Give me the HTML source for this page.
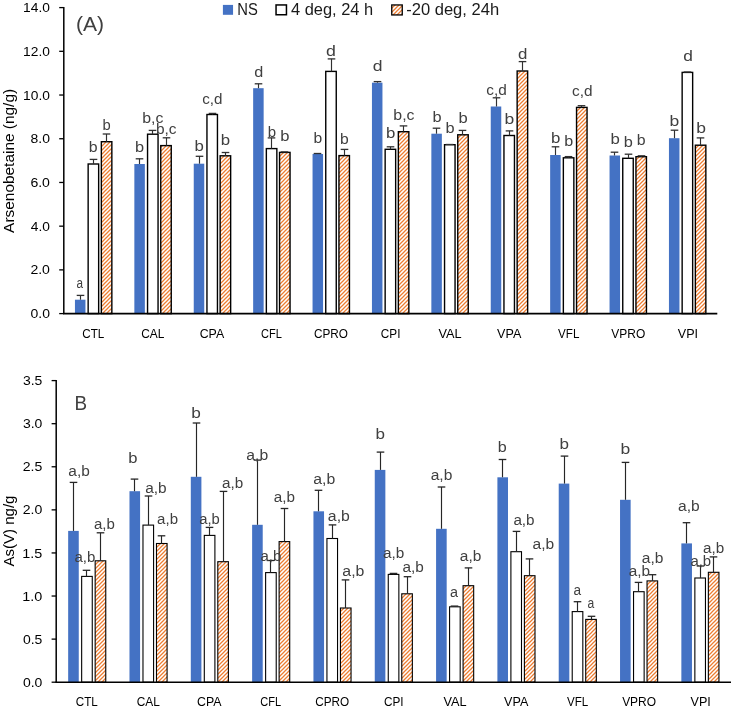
<!DOCTYPE html>
<html><head><meta charset="utf-8"><title>Arsenic species chart</title>
<style>
html,body{margin:0;padding:0;background:#fff;}
body{width:731px;height:711px;position:relative;overflow:hidden;font-family:"Liberation Sans", sans-serif;}
</style></head><body>
<svg width="731" height="711" viewBox="0 0 731 711" style="position:absolute;left:0;top:0;will-change:transform">
<defs><pattern id="hatch" patternUnits="userSpaceOnUse" width="4" height="4"><rect width="4" height="4" fill="#fff"/><path d="M-1,1 L1,-1 M0,4 L4,0 M3,5 L5,3" stroke="#ED7D31" stroke-width="1.25"/></pattern></defs>
<g font-family='"Liberation Sans", sans-serif'>
<rect x="74.95" y="299.70" width="10.50" height="13.90" fill="#4472C4"/>
<line x1="80.50" y1="299.70" x2="80.50" y2="295.40" stroke="#303030" stroke-width="1.15"/>
<line x1="76.70" y1="295.40" x2="84.30" y2="295.40" stroke="#303030" stroke-width="1.3"/>
<rect x="88.15" y="164.00" width="10.50" height="149.60" fill="#fff" stroke="#000" stroke-width="1.4"/>
<line x1="93.50" y1="164.00" x2="93.50" y2="159.40" stroke="#303030" stroke-width="1.15"/>
<line x1="89.70" y1="159.40" x2="97.30" y2="159.40" stroke="#303030" stroke-width="1.3"/>
<rect x="101.35" y="141.70" width="10.50" height="171.90" fill="url(#hatch)" stroke="#000" stroke-width="1.4"/>
<line x1="106.50" y1="141.70" x2="106.50" y2="134.00" stroke="#303030" stroke-width="1.15"/>
<line x1="102.70" y1="134.00" x2="110.30" y2="134.00" stroke="#303030" stroke-width="1.3"/>
<rect x="134.35" y="164.00" width="10.50" height="149.60" fill="#4472C4"/>
<line x1="139.50" y1="164.00" x2="139.50" y2="158.80" stroke="#303030" stroke-width="1.15"/>
<line x1="135.70" y1="158.80" x2="143.30" y2="158.80" stroke="#303030" stroke-width="1.3"/>
<rect x="147.55" y="134.20" width="10.50" height="179.40" fill="#fff" stroke="#000" stroke-width="1.4"/>
<line x1="152.50" y1="134.20" x2="152.50" y2="130.40" stroke="#303030" stroke-width="1.15"/>
<line x1="148.70" y1="130.40" x2="156.30" y2="130.40" stroke="#303030" stroke-width="1.3"/>
<rect x="160.75" y="145.60" width="10.50" height="168.00" fill="url(#hatch)" stroke="#000" stroke-width="1.4"/>
<line x1="166.50" y1="145.60" x2="166.50" y2="137.80" stroke="#303030" stroke-width="1.15"/>
<line x1="162.70" y1="137.80" x2="170.30" y2="137.80" stroke="#303030" stroke-width="1.3"/>
<rect x="193.75" y="163.70" width="10.50" height="149.90" fill="#4472C4"/>
<line x1="199.50" y1="163.70" x2="199.50" y2="156.30" stroke="#303030" stroke-width="1.15"/>
<line x1="195.70" y1="156.30" x2="203.30" y2="156.30" stroke="#303030" stroke-width="1.3"/>
<rect x="206.95" y="114.50" width="10.50" height="199.10" fill="#fff" stroke="#000" stroke-width="1.4"/>
<line x1="212.50" y1="114.50" x2="212.50" y2="113.40" stroke="#303030" stroke-width="1.15"/>
<line x1="208.70" y1="113.40" x2="216.30" y2="113.40" stroke="#303030" stroke-width="1.3"/>
<rect x="220.15" y="155.80" width="10.50" height="157.80" fill="url(#hatch)" stroke="#000" stroke-width="1.4"/>
<line x1="225.50" y1="155.80" x2="225.50" y2="152.50" stroke="#303030" stroke-width="1.15"/>
<line x1="221.70" y1="152.50" x2="229.30" y2="152.50" stroke="#303030" stroke-width="1.3"/>
<rect x="253.15" y="88.20" width="10.50" height="225.40" fill="#4472C4"/>
<line x1="258.50" y1="88.20" x2="258.50" y2="83.80" stroke="#303030" stroke-width="1.15"/>
<line x1="254.70" y1="83.80" x2="262.30" y2="83.80" stroke="#303030" stroke-width="1.3"/>
<rect x="266.35" y="148.60" width="10.50" height="165.00" fill="#fff" stroke="#000" stroke-width="1.4"/>
<line x1="271.50" y1="148.60" x2="271.50" y2="137.90" stroke="#303030" stroke-width="1.15"/>
<line x1="267.70" y1="137.90" x2="275.30" y2="137.90" stroke="#303030" stroke-width="1.3"/>
<rect x="279.55" y="152.40" width="10.50" height="161.20" fill="url(#hatch)" stroke="#000" stroke-width="1.4"/>
<line x1="280.70" y1="151.90" x2="288.30" y2="151.90" stroke="#303030" stroke-width="1.3"/>
<rect x="312.55" y="154.00" width="10.50" height="159.60" fill="#4472C4"/>
<line x1="313.70" y1="153.50" x2="321.30" y2="153.50" stroke="#303030" stroke-width="1.3"/>
<rect x="325.75" y="71.40" width="10.50" height="242.20" fill="#fff" stroke="#000" stroke-width="1.4"/>
<line x1="331.50" y1="71.40" x2="331.50" y2="58.90" stroke="#303030" stroke-width="1.15"/>
<line x1="327.70" y1="58.90" x2="335.30" y2="58.90" stroke="#303030" stroke-width="1.3"/>
<rect x="338.95" y="155.60" width="10.50" height="158.00" fill="url(#hatch)" stroke="#000" stroke-width="1.4"/>
<line x1="344.50" y1="155.60" x2="344.50" y2="149.40" stroke="#303030" stroke-width="1.15"/>
<line x1="340.70" y1="149.40" x2="348.30" y2="149.40" stroke="#303030" stroke-width="1.3"/>
<rect x="371.95" y="82.70" width="10.50" height="230.90" fill="#4472C4"/>
<line x1="377.50" y1="82.70" x2="377.50" y2="81.60" stroke="#303030" stroke-width="1.15"/>
<line x1="373.70" y1="81.60" x2="381.30" y2="81.60" stroke="#303030" stroke-width="1.3"/>
<rect x="385.15" y="149.30" width="10.50" height="164.30" fill="#fff" stroke="#000" stroke-width="1.4"/>
<line x1="390.50" y1="149.30" x2="390.50" y2="146.80" stroke="#303030" stroke-width="1.15"/>
<line x1="386.70" y1="146.80" x2="394.30" y2="146.80" stroke="#303030" stroke-width="1.3"/>
<rect x="398.35" y="131.70" width="10.50" height="181.90" fill="url(#hatch)" stroke="#000" stroke-width="1.4"/>
<line x1="403.50" y1="131.70" x2="403.50" y2="125.90" stroke="#303030" stroke-width="1.15"/>
<line x1="399.70" y1="125.90" x2="407.30" y2="125.90" stroke="#303030" stroke-width="1.3"/>
<rect x="431.35" y="133.70" width="10.50" height="179.90" fill="#4472C4"/>
<line x1="436.50" y1="133.70" x2="436.50" y2="128.20" stroke="#303030" stroke-width="1.15"/>
<line x1="432.70" y1="128.20" x2="440.30" y2="128.20" stroke="#303030" stroke-width="1.3"/>
<rect x="444.55" y="144.70" width="10.50" height="168.90" fill="#fff" stroke="#000" stroke-width="1.4"/>
<line x1="445.70" y1="144.50" x2="453.30" y2="144.50" stroke="#303030" stroke-width="1.3"/>
<rect x="457.75" y="134.80" width="10.50" height="178.80" fill="url(#hatch)" stroke="#000" stroke-width="1.4"/>
<line x1="462.50" y1="134.80" x2="462.50" y2="130.40" stroke="#303030" stroke-width="1.15"/>
<line x1="458.70" y1="130.40" x2="466.30" y2="130.40" stroke="#303030" stroke-width="1.3"/>
<rect x="490.75" y="106.50" width="10.50" height="207.10" fill="#4472C4"/>
<line x1="496.50" y1="106.50" x2="496.50" y2="97.80" stroke="#303030" stroke-width="1.15"/>
<line x1="492.70" y1="97.80" x2="500.30" y2="97.80" stroke="#303030" stroke-width="1.3"/>
<rect x="503.95" y="135.50" width="10.50" height="178.10" fill="#fff" stroke="#000" stroke-width="1.4"/>
<line x1="509.50" y1="135.50" x2="509.50" y2="130.90" stroke="#303030" stroke-width="1.15"/>
<line x1="505.70" y1="130.90" x2="513.30" y2="130.90" stroke="#303030" stroke-width="1.3"/>
<rect x="517.15" y="71.00" width="10.50" height="242.60" fill="url(#hatch)" stroke="#000" stroke-width="1.4"/>
<line x1="522.50" y1="71.00" x2="522.50" y2="61.60" stroke="#303030" stroke-width="1.15"/>
<line x1="518.70" y1="61.60" x2="526.30" y2="61.60" stroke="#303030" stroke-width="1.3"/>
<rect x="550.15" y="155.00" width="10.50" height="158.60" fill="#4472C4"/>
<line x1="555.50" y1="155.00" x2="555.50" y2="146.80" stroke="#303030" stroke-width="1.15"/>
<line x1="551.70" y1="146.80" x2="559.30" y2="146.80" stroke="#303030" stroke-width="1.3"/>
<rect x="563.35" y="157.80" width="10.50" height="155.80" fill="#fff" stroke="#000" stroke-width="1.4"/>
<line x1="568.50" y1="157.80" x2="568.50" y2="156.60" stroke="#303030" stroke-width="1.15"/>
<line x1="564.70" y1="156.60" x2="572.30" y2="156.60" stroke="#303030" stroke-width="1.3"/>
<rect x="576.55" y="107.40" width="10.50" height="206.20" fill="url(#hatch)" stroke="#000" stroke-width="1.4"/>
<line x1="581.50" y1="107.40" x2="581.50" y2="105.70" stroke="#303030" stroke-width="1.15"/>
<line x1="577.70" y1="105.70" x2="585.30" y2="105.70" stroke="#303030" stroke-width="1.3"/>
<rect x="609.55" y="155.50" width="10.50" height="158.10" fill="#4472C4"/>
<line x1="614.50" y1="155.50" x2="614.50" y2="152.20" stroke="#303030" stroke-width="1.15"/>
<line x1="610.70" y1="152.20" x2="618.30" y2="152.20" stroke="#303030" stroke-width="1.3"/>
<rect x="622.75" y="158.30" width="10.50" height="155.30" fill="#fff" stroke="#000" stroke-width="1.4"/>
<line x1="628.50" y1="158.30" x2="628.50" y2="154.20" stroke="#303030" stroke-width="1.15"/>
<line x1="624.70" y1="154.20" x2="632.30" y2="154.20" stroke="#303030" stroke-width="1.3"/>
<rect x="635.95" y="156.70" width="10.50" height="156.90" fill="url(#hatch)" stroke="#000" stroke-width="1.4"/>
<line x1="641.50" y1="156.70" x2="641.50" y2="155.80" stroke="#303030" stroke-width="1.15"/>
<line x1="637.70" y1="155.80" x2="645.30" y2="155.80" stroke="#303030" stroke-width="1.3"/>
<rect x="668.95" y="138.20" width="10.50" height="175.40" fill="#4472C4"/>
<line x1="674.50" y1="138.20" x2="674.50" y2="130.20" stroke="#303030" stroke-width="1.15"/>
<line x1="670.70" y1="130.20" x2="678.30" y2="130.20" stroke="#303030" stroke-width="1.3"/>
<rect x="682.15" y="72.40" width="10.50" height="241.20" fill="#fff" stroke="#000" stroke-width="1.4"/>
<line x1="683.70" y1="72.00" x2="691.30" y2="72.00" stroke="#303030" stroke-width="1.3"/>
<rect x="695.35" y="145.20" width="10.50" height="168.40" fill="url(#hatch)" stroke="#000" stroke-width="1.4"/>
<line x1="700.50" y1="145.20" x2="700.50" y2="137.90" stroke="#303030" stroke-width="1.15"/>
<line x1="696.70" y1="137.90" x2="704.30" y2="137.90" stroke="#303030" stroke-width="1.3"/>
<text x="76.43" y="288.40" font-size="15.4" fill="#404040" textLength="6.53" lengthAdjust="spacingAndGlyphs" >a</text>
<text x="88.89" y="151.90" font-size="15.4" fill="#404040" textLength="8.85" lengthAdjust="spacingAndGlyphs" >b</text>
<text x="102.47" y="129.70" font-size="15.4" fill="#404040" textLength="8.22" lengthAdjust="spacingAndGlyphs" >b</text>
<text x="135.05" y="152.40" font-size="15.4" fill="#404040" textLength="9.10" lengthAdjust="spacingAndGlyphs" >b</text>
<text x="142.29" y="122.90" font-size="15.4" fill="#404040" textLength="21.19" lengthAdjust="spacingAndGlyphs" >b,c</text>
<text x="155.92" y="134.40" font-size="15.4" fill="#404040" textLength="20.66" lengthAdjust="spacingAndGlyphs" >b,c</text>
<text x="194.42" y="150.70" font-size="15.4" fill="#404040" textLength="9.36" lengthAdjust="spacingAndGlyphs" >b</text>
<text x="202.19" y="103.70" font-size="15.4" fill="#404040" textLength="20.28" lengthAdjust="spacingAndGlyphs" >c,d</text>
<text x="220.72" y="144.70" font-size="15.4" fill="#404040" textLength="9.36" lengthAdjust="spacingAndGlyphs" >b</text>
<text x="254.25" y="76.60" font-size="15.4" fill="#404040" textLength="9.02" lengthAdjust="spacingAndGlyphs" >d</text>
<text x="267.65" y="137.00" font-size="15.4" fill="#404040" textLength="8.34" lengthAdjust="spacingAndGlyphs" >b</text>
<text x="280.34" y="141.10" font-size="15.4" fill="#404040" textLength="9.23" lengthAdjust="spacingAndGlyphs" >b</text>
<text x="313.60" y="142.70" font-size="15.4" fill="#404040" textLength="8.72" lengthAdjust="spacingAndGlyphs" >b</text>
<text x="326.09" y="56.00" font-size="15.4" fill="#404040" textLength="9.89" lengthAdjust="spacingAndGlyphs" >d</text>
<text x="339.90" y="144.40" font-size="15.4" fill="#404040" textLength="8.72" lengthAdjust="spacingAndGlyphs" >b</text>
<text x="372.70" y="71.30" font-size="15.4" fill="#404040" textLength="9.77" lengthAdjust="spacingAndGlyphs" >d</text>
<text x="385.92" y="137.70" font-size="15.4" fill="#404040" textLength="9.36" lengthAdjust="spacingAndGlyphs" >b</text>
<text x="393.39" y="120.40" font-size="15.4" fill="#404040" textLength="21.19" lengthAdjust="spacingAndGlyphs" >b,c</text>
<text x="432.45" y="122.00" font-size="15.4" fill="#404040" textLength="9.10" lengthAdjust="spacingAndGlyphs" >b</text>
<text x="445.55" y="133.20" font-size="15.4" fill="#404040" textLength="9.10" lengthAdjust="spacingAndGlyphs" >b</text>
<text x="458.64" y="122.90" font-size="15.4" fill="#404040" textLength="9.23" lengthAdjust="spacingAndGlyphs" >b</text>
<text x="486.29" y="94.80" font-size="15.4" fill="#404040" textLength="20.50" lengthAdjust="spacingAndGlyphs" >c,d</text>
<text x="504.57" y="123.50" font-size="15.4" fill="#404040" textLength="9.73" lengthAdjust="spacingAndGlyphs" >b</text>
<text x="517.92" y="59.10" font-size="15.4" fill="#404040" textLength="9.39" lengthAdjust="spacingAndGlyphs" >d</text>
<text x="551.02" y="142.60" font-size="15.4" fill="#404040" textLength="9.36" lengthAdjust="spacingAndGlyphs" >b</text>
<text x="564.17" y="145.90" font-size="15.4" fill="#404040" textLength="8.98" lengthAdjust="spacingAndGlyphs" >b</text>
<text x="571.99" y="95.70" font-size="15.4" fill="#404040" textLength="20.50" lengthAdjust="spacingAndGlyphs" >c,d</text>
<text x="610.42" y="143.70" font-size="15.4" fill="#404040" textLength="9.36" lengthAdjust="spacingAndGlyphs" >b</text>
<text x="623.75" y="146.70" font-size="15.4" fill="#404040" textLength="9.10" lengthAdjust="spacingAndGlyphs" >b</text>
<text x="636.89" y="145.00" font-size="15.4" fill="#404040" textLength="8.85" lengthAdjust="spacingAndGlyphs" >b</text>
<text x="669.48" y="126.10" font-size="15.4" fill="#404040" textLength="9.73" lengthAdjust="spacingAndGlyphs" >b</text>
<text x="683.21" y="60.90" font-size="15.4" fill="#404040" textLength="9.64" lengthAdjust="spacingAndGlyphs" >d</text>
<text x="696.38" y="133.10" font-size="15.4" fill="#404040" textLength="9.73" lengthAdjust="spacingAndGlyphs" >b</text>
<line x1="63.80" y1="7.00" x2="63.80" y2="313.60" stroke="#000" stroke-width="1.5"/>
<line x1="63.05" y1="313.60" x2="717.30" y2="313.60" stroke="#000" stroke-width="1.6"/>
<line x1="59.20" y1="7.60" x2="63.80" y2="7.60" stroke="#000" stroke-width="1.3"/>
<text x="23.10" y="12.20" font-size="13.5" fill="#000" textLength="26.80" lengthAdjust="spacingAndGlyphs" >14.0</text>
<line x1="59.20" y1="51.31" x2="63.80" y2="51.31" stroke="#000" stroke-width="1.3"/>
<text x="23.10" y="55.91" font-size="13.5" fill="#000" textLength="26.80" lengthAdjust="spacingAndGlyphs" >12.0</text>
<line x1="59.20" y1="95.03" x2="63.80" y2="95.03" stroke="#000" stroke-width="1.3"/>
<text x="23.10" y="99.63" font-size="13.5" fill="#000" textLength="26.80" lengthAdjust="spacingAndGlyphs" >10.0</text>
<line x1="59.20" y1="138.74" x2="63.80" y2="138.74" stroke="#000" stroke-width="1.3"/>
<text x="30.54" y="143.34" font-size="13.5" fill="#000" textLength="19.42" lengthAdjust="spacingAndGlyphs" >8.0</text>
<line x1="59.20" y1="182.46" x2="63.80" y2="182.46" stroke="#000" stroke-width="1.3"/>
<text x="30.40" y="187.06" font-size="13.5" fill="#000" textLength="19.57" lengthAdjust="spacingAndGlyphs" >6.0</text>
<line x1="59.20" y1="226.17" x2="63.80" y2="226.17" stroke="#000" stroke-width="1.3"/>
<text x="30.82" y="230.77" font-size="13.5" fill="#000" textLength="19.13" lengthAdjust="spacingAndGlyphs" >4.0</text>
<line x1="59.20" y1="269.88" x2="63.80" y2="269.88" stroke="#000" stroke-width="1.3"/>
<text x="30.40" y="274.48" font-size="13.5" fill="#000" textLength="19.57" lengthAdjust="spacingAndGlyphs" >2.0</text>
<line x1="59.20" y1="313.60" x2="63.80" y2="313.60" stroke="#000" stroke-width="1.3"/>
<text x="30.54" y="318.20" font-size="13.5" fill="#000" textLength="19.42" lengthAdjust="spacingAndGlyphs" >0.0</text>
<text x="82.27" y="338.10" font-size="13.5" fill="#000" textLength="22.02" lengthAdjust="spacingAndGlyphs" >CTL</text>
<text x="141.16" y="338.10" font-size="13.5" fill="#000" textLength="23.11" lengthAdjust="spacingAndGlyphs" >CAL</text>
<text x="199.68" y="338.10" font-size="13.5" fill="#000" textLength="24.44" lengthAdjust="spacingAndGlyphs" >CPA</text>
<text x="261.05" y="338.10" font-size="13.5" fill="#000" textLength="20.88" lengthAdjust="spacingAndGlyphs" >CFL</text>
<text x="314.01" y="338.10" font-size="13.5" fill="#000" textLength="33.97" lengthAdjust="spacingAndGlyphs" >CPRO</text>
<text x="380.81" y="338.10" font-size="13.5" fill="#000" textLength="19.61" lengthAdjust="spacingAndGlyphs" >CPI</text>
<text x="438.40" y="338.10" font-size="13.5" fill="#000" textLength="23.13" lengthAdjust="spacingAndGlyphs" >VAL</text>
<text x="497.09" y="338.10" font-size="13.5" fill="#000" textLength="24.18" lengthAdjust="spacingAndGlyphs" >VPA</text>
<text x="558.09" y="338.10" font-size="13.5" fill="#000" textLength="21.30" lengthAdjust="spacingAndGlyphs" >VFL</text>
<text x="611.30" y="338.10" font-size="13.5" fill="#000" textLength="33.92" lengthAdjust="spacingAndGlyphs" >VPRO</text>
<text x="677.77" y="338.10" font-size="13.5" fill="#000" textLength="20.28" lengthAdjust="spacingAndGlyphs" >VPI</text>
<rect x="68.16" y="530.90" width="10.60" height="151.30" fill="#4472C4"/>
<line x1="73.50" y1="530.90" x2="73.50" y2="482.40" stroke="#262626" stroke-width="1.15"/>
<line x1="69.70" y1="482.40" x2="77.30" y2="482.40" stroke="#262626" stroke-width="1.3"/>
<rect x="81.66" y="576.40" width="10.60" height="105.80" fill="#fff" stroke="#000" stroke-width="1.1"/>
<line x1="86.50" y1="576.40" x2="86.50" y2="570.30" stroke="#262626" stroke-width="1.15"/>
<line x1="82.70" y1="570.30" x2="90.30" y2="570.30" stroke="#262626" stroke-width="1.3"/>
<rect x="95.16" y="560.80" width="10.60" height="121.40" fill="url(#hatch)" stroke="#000" stroke-width="1.1"/>
<line x1="100.50" y1="560.80" x2="100.50" y2="532.80" stroke="#262626" stroke-width="1.15"/>
<line x1="96.70" y1="532.80" x2="104.30" y2="532.80" stroke="#262626" stroke-width="1.3"/>
<rect x="129.48" y="491.20" width="10.60" height="191.00" fill="#4472C4"/>
<line x1="134.50" y1="491.20" x2="134.50" y2="479.10" stroke="#262626" stroke-width="1.15"/>
<line x1="130.70" y1="479.10" x2="138.30" y2="479.10" stroke="#262626" stroke-width="1.3"/>
<rect x="142.98" y="525.10" width="10.60" height="157.10" fill="#fff" stroke="#000" stroke-width="1.1"/>
<line x1="148.50" y1="525.10" x2="148.50" y2="496.00" stroke="#262626" stroke-width="1.15"/>
<line x1="144.70" y1="496.00" x2="152.30" y2="496.00" stroke="#262626" stroke-width="1.3"/>
<rect x="156.48" y="543.50" width="10.60" height="138.70" fill="url(#hatch)" stroke="#000" stroke-width="1.1"/>
<line x1="161.50" y1="543.50" x2="161.50" y2="535.80" stroke="#262626" stroke-width="1.15"/>
<line x1="157.70" y1="535.80" x2="165.30" y2="535.80" stroke="#262626" stroke-width="1.3"/>
<rect x="190.80" y="476.80" width="10.60" height="205.40" fill="#4472C4"/>
<line x1="196.50" y1="476.80" x2="196.50" y2="423.00" stroke="#262626" stroke-width="1.15"/>
<line x1="192.70" y1="423.00" x2="200.30" y2="423.00" stroke="#262626" stroke-width="1.3"/>
<rect x="204.30" y="535.40" width="10.60" height="146.80" fill="#fff" stroke="#000" stroke-width="1.1"/>
<line x1="209.50" y1="535.40" x2="209.50" y2="527.40" stroke="#262626" stroke-width="1.15"/>
<line x1="205.70" y1="527.40" x2="213.30" y2="527.40" stroke="#262626" stroke-width="1.3"/>
<rect x="217.80" y="561.70" width="10.60" height="120.50" fill="url(#hatch)" stroke="#000" stroke-width="1.1"/>
<line x1="223.50" y1="561.70" x2="223.50" y2="491.40" stroke="#262626" stroke-width="1.15"/>
<line x1="219.70" y1="491.40" x2="227.30" y2="491.40" stroke="#262626" stroke-width="1.3"/>
<rect x="252.12" y="524.80" width="10.60" height="157.40" fill="#4472C4"/>
<line x1="257.50" y1="524.80" x2="257.50" y2="460.10" stroke="#262626" stroke-width="1.15"/>
<line x1="253.70" y1="460.10" x2="261.30" y2="460.10" stroke="#262626" stroke-width="1.3"/>
<rect x="265.62" y="572.60" width="10.60" height="109.60" fill="#fff" stroke="#000" stroke-width="1.1"/>
<line x1="270.50" y1="572.60" x2="270.50" y2="560.50" stroke="#262626" stroke-width="1.15"/>
<line x1="266.70" y1="560.50" x2="274.30" y2="560.50" stroke="#262626" stroke-width="1.3"/>
<rect x="279.12" y="541.60" width="10.60" height="140.60" fill="url(#hatch)" stroke="#000" stroke-width="1.1"/>
<line x1="284.50" y1="541.60" x2="284.50" y2="508.50" stroke="#262626" stroke-width="1.15"/>
<line x1="280.70" y1="508.50" x2="288.30" y2="508.50" stroke="#262626" stroke-width="1.3"/>
<rect x="313.44" y="511.30" width="10.60" height="170.90" fill="#4472C4"/>
<line x1="318.50" y1="511.30" x2="318.50" y2="490.30" stroke="#262626" stroke-width="1.15"/>
<line x1="314.70" y1="490.30" x2="322.30" y2="490.30" stroke="#262626" stroke-width="1.3"/>
<rect x="326.94" y="538.50" width="10.60" height="143.70" fill="#fff" stroke="#000" stroke-width="1.1"/>
<line x1="332.50" y1="538.50" x2="332.50" y2="524.90" stroke="#262626" stroke-width="1.15"/>
<line x1="328.70" y1="524.90" x2="336.30" y2="524.90" stroke="#262626" stroke-width="1.3"/>
<rect x="340.44" y="608.00" width="10.60" height="74.20" fill="url(#hatch)" stroke="#000" stroke-width="1.1"/>
<line x1="345.50" y1="608.00" x2="345.50" y2="579.90" stroke="#262626" stroke-width="1.15"/>
<line x1="341.70" y1="579.90" x2="349.30" y2="579.90" stroke="#262626" stroke-width="1.3"/>
<rect x="374.76" y="469.90" width="10.60" height="212.30" fill="#4472C4"/>
<line x1="380.50" y1="469.90" x2="380.50" y2="452.10" stroke="#262626" stroke-width="1.15"/>
<line x1="376.70" y1="452.10" x2="384.30" y2="452.10" stroke="#262626" stroke-width="1.3"/>
<rect x="388.26" y="574.40" width="10.60" height="107.80" fill="#fff" stroke="#000" stroke-width="1.1"/>
<line x1="393.50" y1="574.40" x2="393.50" y2="573.40" stroke="#262626" stroke-width="1.15"/>
<line x1="389.70" y1="573.40" x2="397.30" y2="573.40" stroke="#262626" stroke-width="1.3"/>
<rect x="401.76" y="593.80" width="10.60" height="88.40" fill="url(#hatch)" stroke="#000" stroke-width="1.1"/>
<line x1="407.50" y1="593.80" x2="407.50" y2="576.70" stroke="#262626" stroke-width="1.15"/>
<line x1="403.70" y1="576.70" x2="411.30" y2="576.70" stroke="#262626" stroke-width="1.3"/>
<rect x="436.08" y="528.80" width="10.60" height="153.40" fill="#4472C4"/>
<line x1="441.50" y1="528.80" x2="441.50" y2="487.00" stroke="#262626" stroke-width="1.15"/>
<line x1="437.70" y1="487.00" x2="445.30" y2="487.00" stroke="#262626" stroke-width="1.3"/>
<rect x="449.58" y="606.80" width="10.60" height="75.40" fill="#fff" stroke="#000" stroke-width="1.1"/>
<line x1="450.70" y1="606.10" x2="458.30" y2="606.10" stroke="#262626" stroke-width="1.3"/>
<rect x="463.08" y="585.70" width="10.60" height="96.50" fill="url(#hatch)" stroke="#000" stroke-width="1.1"/>
<line x1="468.50" y1="585.70" x2="468.50" y2="567.90" stroke="#262626" stroke-width="1.15"/>
<line x1="464.70" y1="567.90" x2="472.30" y2="567.90" stroke="#262626" stroke-width="1.3"/>
<rect x="497.40" y="477.30" width="10.60" height="204.90" fill="#4472C4"/>
<line x1="502.50" y1="477.30" x2="502.50" y2="459.50" stroke="#262626" stroke-width="1.15"/>
<line x1="498.70" y1="459.50" x2="506.30" y2="459.50" stroke="#262626" stroke-width="1.3"/>
<rect x="510.90" y="551.70" width="10.60" height="130.50" fill="#fff" stroke="#000" stroke-width="1.1"/>
<line x1="516.50" y1="551.70" x2="516.50" y2="531.40" stroke="#262626" stroke-width="1.15"/>
<line x1="512.70" y1="531.40" x2="520.30" y2="531.40" stroke="#262626" stroke-width="1.3"/>
<rect x="524.40" y="575.70" width="10.60" height="106.50" fill="url(#hatch)" stroke="#000" stroke-width="1.1"/>
<line x1="529.50" y1="575.70" x2="529.50" y2="558.90" stroke="#262626" stroke-width="1.15"/>
<line x1="525.70" y1="558.90" x2="533.30" y2="558.90" stroke="#262626" stroke-width="1.3"/>
<rect x="558.72" y="483.60" width="10.60" height="198.60" fill="#4472C4"/>
<line x1="564.50" y1="483.60" x2="564.50" y2="456.10" stroke="#262626" stroke-width="1.15"/>
<line x1="560.70" y1="456.10" x2="568.30" y2="456.10" stroke="#262626" stroke-width="1.3"/>
<rect x="572.22" y="611.60" width="10.60" height="70.60" fill="#fff" stroke="#000" stroke-width="1.1"/>
<line x1="577.50" y1="611.60" x2="577.50" y2="601.70" stroke="#262626" stroke-width="1.15"/>
<line x1="573.70" y1="601.70" x2="581.30" y2="601.70" stroke="#262626" stroke-width="1.3"/>
<rect x="585.72" y="619.40" width="10.60" height="62.80" fill="url(#hatch)" stroke="#000" stroke-width="1.1"/>
<line x1="591.50" y1="619.40" x2="591.50" y2="616.30" stroke="#262626" stroke-width="1.15"/>
<line x1="587.70" y1="616.30" x2="595.30" y2="616.30" stroke="#262626" stroke-width="1.3"/>
<rect x="620.04" y="499.80" width="10.60" height="182.40" fill="#4472C4"/>
<line x1="625.50" y1="499.80" x2="625.50" y2="462.40" stroke="#262626" stroke-width="1.15"/>
<line x1="621.70" y1="462.40" x2="629.30" y2="462.40" stroke="#262626" stroke-width="1.3"/>
<rect x="633.54" y="591.70" width="10.60" height="90.50" fill="#fff" stroke="#000" stroke-width="1.1"/>
<line x1="638.50" y1="591.70" x2="638.50" y2="582.40" stroke="#262626" stroke-width="1.15"/>
<line x1="634.70" y1="582.40" x2="642.30" y2="582.40" stroke="#262626" stroke-width="1.3"/>
<rect x="647.04" y="580.90" width="10.60" height="101.30" fill="url(#hatch)" stroke="#000" stroke-width="1.1"/>
<line x1="652.50" y1="580.90" x2="652.50" y2="574.70" stroke="#262626" stroke-width="1.15"/>
<line x1="648.70" y1="574.70" x2="656.30" y2="574.70" stroke="#262626" stroke-width="1.3"/>
<rect x="681.36" y="543.40" width="10.60" height="138.80" fill="#4472C4"/>
<line x1="686.50" y1="543.40" x2="686.50" y2="522.70" stroke="#262626" stroke-width="1.15"/>
<line x1="682.70" y1="522.70" x2="690.30" y2="522.70" stroke="#262626" stroke-width="1.3"/>
<rect x="694.86" y="578.00" width="10.60" height="104.20" fill="#fff" stroke="#000" stroke-width="1.1"/>
<line x1="700.50" y1="578.00" x2="700.50" y2="566.00" stroke="#262626" stroke-width="1.15"/>
<line x1="696.70" y1="566.00" x2="704.30" y2="566.00" stroke="#262626" stroke-width="1.3"/>
<rect x="708.36" y="572.30" width="10.60" height="109.90" fill="url(#hatch)" stroke="#000" stroke-width="1.1"/>
<line x1="713.50" y1="572.30" x2="713.50" y2="556.90" stroke="#262626" stroke-width="1.15"/>
<line x1="709.70" y1="556.90" x2="717.30" y2="556.90" stroke="#262626" stroke-width="1.3"/>
<text x="68.38" y="476.40" font-size="15.4" fill="#404040" textLength="21.44" lengthAdjust="spacingAndGlyphs" >a,b</text>
<text x="74.50" y="561.80" font-size="15.4" fill="#404040" textLength="20.91" lengthAdjust="spacingAndGlyphs" >a,b</text>
<text x="93.90" y="528.60" font-size="15.4" fill="#404040" textLength="20.91" lengthAdjust="spacingAndGlyphs" >a,b</text>
<text x="128.24" y="462.90" font-size="15.4" fill="#404040" textLength="9.23" lengthAdjust="spacingAndGlyphs" >b</text>
<text x="145.18" y="493.30" font-size="15.4" fill="#404040" textLength="21.44" lengthAdjust="spacingAndGlyphs" >a,b</text>
<text x="157.10" y="523.70" font-size="15.4" fill="#404040" textLength="20.91" lengthAdjust="spacingAndGlyphs" >a,b</text>
<text x="191.19" y="417.80" font-size="15.4" fill="#404040" textLength="9.61" lengthAdjust="spacingAndGlyphs" >b</text>
<text x="199.21" y="523.90" font-size="15.4" fill="#404040" textLength="20.59" lengthAdjust="spacingAndGlyphs" >a,b</text>
<text x="222.09" y="487.60" font-size="15.4" fill="#404040" textLength="21.22" lengthAdjust="spacingAndGlyphs" >a,b</text>
<text x="246.37" y="459.90" font-size="15.4" fill="#404040" textLength="21.86" lengthAdjust="spacingAndGlyphs" >a,b</text>
<text x="260.50" y="560.70" font-size="15.4" fill="#404040" textLength="20.91" lengthAdjust="spacingAndGlyphs" >a,b</text>
<text x="273.69" y="502.10" font-size="15.4" fill="#404040" textLength="21.22" lengthAdjust="spacingAndGlyphs" >a,b</text>
<text x="313.27" y="483.50" font-size="15.4" fill="#404040" textLength="21.97" lengthAdjust="spacingAndGlyphs" >a,b</text>
<text x="327.87" y="520.70" font-size="15.4" fill="#404040" textLength="21.97" lengthAdjust="spacingAndGlyphs" >a,b</text>
<text x="342.36" y="576.40" font-size="15.4" fill="#404040" textLength="22.07" lengthAdjust="spacingAndGlyphs" >a,b</text>
<text x="375.61" y="439.20" font-size="15.4" fill="#404040" textLength="9.48" lengthAdjust="spacingAndGlyphs" >b</text>
<text x="382.99" y="557.90" font-size="15.4" fill="#404040" textLength="21.33" lengthAdjust="spacingAndGlyphs" >a,b</text>
<text x="402.39" y="571.50" font-size="15.4" fill="#404040" textLength="21.33" lengthAdjust="spacingAndGlyphs" >a,b</text>
<text x="430.68" y="479.60" font-size="15.4" fill="#404040" textLength="21.65" lengthAdjust="spacingAndGlyphs" >a,b</text>
<text x="450.12" y="596.80" font-size="15.4" fill="#404040" textLength="8.02" lengthAdjust="spacingAndGlyphs" >a</text>
<text x="459.88" y="561.20" font-size="15.4" fill="#404040" textLength="21.54" lengthAdjust="spacingAndGlyphs" >a,b</text>
<text x="497.67" y="452.10" font-size="15.4" fill="#404040" textLength="8.98" lengthAdjust="spacingAndGlyphs" >b</text>
<text x="513.39" y="524.90" font-size="15.4" fill="#404040" textLength="21.22" lengthAdjust="spacingAndGlyphs" >a,b</text>
<text x="532.58" y="549.20" font-size="15.4" fill="#404040" textLength="21.65" lengthAdjust="spacingAndGlyphs" >a,b</text>
<text x="559.51" y="449.30" font-size="15.4" fill="#404040" textLength="9.48" lengthAdjust="spacingAndGlyphs" >b</text>
<text x="573.55" y="595.00" font-size="15.4" fill="#404040" textLength="7.59" lengthAdjust="spacingAndGlyphs" >a</text>
<text x="587.42" y="607.60" font-size="15.4" fill="#404040" textLength="6.74" lengthAdjust="spacingAndGlyphs" >a</text>
<text x="620.48" y="454.10" font-size="15.4" fill="#404040" textLength="9.73" lengthAdjust="spacingAndGlyphs" >b</text>
<text x="628.79" y="576.30" font-size="15.4" fill="#404040" textLength="21.33" lengthAdjust="spacingAndGlyphs" >a,b</text>
<text x="641.78" y="563.00" font-size="15.4" fill="#404040" textLength="21.65" lengthAdjust="spacingAndGlyphs" >a,b</text>
<text x="677.98" y="510.80" font-size="15.4" fill="#404040" textLength="21.65" lengthAdjust="spacingAndGlyphs" >a,b</text>
<text x="690.40" y="566.10" font-size="15.4" fill="#404040" textLength="20.80" lengthAdjust="spacingAndGlyphs" >a,b</text>
<text x="703.09" y="553.00" font-size="15.4" fill="#404040" textLength="21.22" lengthAdjust="spacingAndGlyphs" >a,b</text>
<line x1="56.20" y1="380.00" x2="56.20" y2="682.20" stroke="#000" stroke-width="1.5"/>
<line x1="55.45" y1="682.20" x2="731.00" y2="682.20" stroke="#000" stroke-width="1.6"/>
<line x1="51.60" y1="380.60" x2="56.20" y2="380.60" stroke="#000" stroke-width="1.3"/>
<text x="22.94" y="385.20" font-size="13.5" fill="#000" textLength="19.42" lengthAdjust="spacingAndGlyphs" >3.5</text>
<line x1="51.60" y1="423.69" x2="56.20" y2="423.69" stroke="#000" stroke-width="1.3"/>
<text x="22.94" y="428.29" font-size="13.5" fill="#000" textLength="19.42" lengthAdjust="spacingAndGlyphs" >3.0</text>
<line x1="51.60" y1="466.77" x2="56.20" y2="466.77" stroke="#000" stroke-width="1.3"/>
<text x="22.80" y="471.37" font-size="13.5" fill="#000" textLength="19.57" lengthAdjust="spacingAndGlyphs" >2.5</text>
<line x1="51.60" y1="509.86" x2="56.20" y2="509.86" stroke="#000" stroke-width="1.3"/>
<text x="22.80" y="514.46" font-size="13.5" fill="#000" textLength="19.57" lengthAdjust="spacingAndGlyphs" >2.0</text>
<line x1="51.60" y1="552.94" x2="56.20" y2="552.94" stroke="#000" stroke-width="1.3"/>
<text x="22.35" y="557.54" font-size="13.5" fill="#000" textLength="20.03" lengthAdjust="spacingAndGlyphs" >1.5</text>
<line x1="51.60" y1="596.03" x2="56.20" y2="596.03" stroke="#000" stroke-width="1.3"/>
<text x="22.35" y="600.63" font-size="13.5" fill="#000" textLength="20.03" lengthAdjust="spacingAndGlyphs" >1.0</text>
<line x1="51.60" y1="639.12" x2="56.20" y2="639.12" stroke="#000" stroke-width="1.3"/>
<text x="22.94" y="643.72" font-size="13.5" fill="#000" textLength="19.42" lengthAdjust="spacingAndGlyphs" >0.5</text>
<line x1="51.60" y1="682.20" x2="56.20" y2="682.20" stroke="#000" stroke-width="1.3"/>
<text x="22.94" y="686.80" font-size="13.5" fill="#000" textLength="19.42" lengthAdjust="spacingAndGlyphs" >0.0</text>
<text x="75.83" y="706.10" font-size="13.5" fill="#000" textLength="22.02" lengthAdjust="spacingAndGlyphs" >CTL</text>
<text x="136.64" y="706.10" font-size="13.5" fill="#000" textLength="23.11" lengthAdjust="spacingAndGlyphs" >CAL</text>
<text x="197.08" y="706.10" font-size="13.5" fill="#000" textLength="24.44" lengthAdjust="spacingAndGlyphs" >CPA</text>
<text x="260.37" y="706.10" font-size="13.5" fill="#000" textLength="20.88" lengthAdjust="spacingAndGlyphs" >CFL</text>
<text x="315.25" y="706.10" font-size="13.5" fill="#000" textLength="33.97" lengthAdjust="spacingAndGlyphs" >CPRO</text>
<text x="383.97" y="706.10" font-size="13.5" fill="#000" textLength="19.61" lengthAdjust="spacingAndGlyphs" >CPI</text>
<text x="443.48" y="706.10" font-size="13.5" fill="#000" textLength="23.13" lengthAdjust="spacingAndGlyphs" >VAL</text>
<text x="504.09" y="706.10" font-size="13.5" fill="#000" textLength="24.18" lengthAdjust="spacingAndGlyphs" >VPA</text>
<text x="567.01" y="706.10" font-size="13.5" fill="#000" textLength="21.30" lengthAdjust="spacingAndGlyphs" >VFL</text>
<text x="622.14" y="706.10" font-size="13.5" fill="#000" textLength="33.92" lengthAdjust="spacingAndGlyphs" >VPRO</text>
<text x="690.53" y="706.10" font-size="13.5" fill="#000" textLength="20.28" lengthAdjust="spacingAndGlyphs" >VPI</text>
<rect x="222.9" y="4.9" width="10.15" height="9.9" fill="#4472C4"/>
<text x="237.32" y="14.90" font-size="15.8" fill="#1a1a1a" textLength="20.51" lengthAdjust="spacingAndGlyphs" >NS</text>
<rect x="276.05" y="4.95" width="10.4" height="9.8" fill="#fff" stroke="#000" stroke-width="1.5"/>
<text x="290.97" y="14.90" font-size="15.8" fill="#1a1a1a" textLength="82.19" lengthAdjust="spacingAndGlyphs" >4 deg, 24 h</text>
<rect x="391.75" y="4.95" width="10.5" height="10" fill="url(#hatch)" stroke="#000" stroke-width="1.3"/>
<text x="406.24" y="14.90" font-size="15.8" fill="#1a1a1a" textLength="92.85" lengthAdjust="spacingAndGlyphs" >-20 deg, 24h</text>
<text x="76.04" y="31.40" font-size="21" fill="#404040" textLength="28.09" lengthAdjust="spacingAndGlyphs" >(A)</text>
<text x="74.49" y="410.00" font-size="20.3" fill="#404040" textLength="12.59" lengthAdjust="spacingAndGlyphs" >B</text>
<text transform="translate(13.80,232.90) rotate(-90)" x="0" y="0" font-size="15" fill="#000" textLength="144.02" lengthAdjust="spacingAndGlyphs">Arsenobetaine (ng/g)</text>
<text transform="translate(13.80,566.50) rotate(-90)" x="0" y="0" font-size="15" fill="#000" textLength="70.96" lengthAdjust="spacingAndGlyphs">As(V) ng/g</text>
</g></svg>
</body></html>
